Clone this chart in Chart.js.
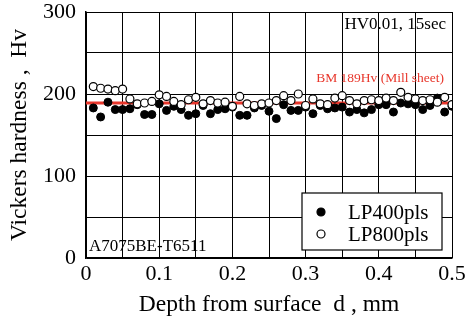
<!DOCTYPE html>
<html>
<head>
<meta charset="utf-8">
<script src="https://cdn.jsdelivr.net/npm/chart.js@4"></script>
<style>
  html, body { margin: 0; padding: 0; background: #fff; }
  #wrap { width: 471px; height: 322px; }
</style>
</head>
<body>
<div id="wrap"><canvas id="c" width="471" height="322"></canvas></div>
<script>
// depth from surface, mm
const depths = [0.01, 0.02, 0.03, 0.04, 0.05, 0.06, 0.07, 0.08, 0.09, 0.10,
                0.11, 0.12, 0.13, 0.14, 0.15, 0.16, 0.17, 0.18, 0.19, 0.20,
                0.21, 0.22, 0.23, 0.24, 0.25, 0.26, 0.27, 0.28, 0.29, 0.30,
                0.31, 0.32, 0.33, 0.34, 0.35, 0.36, 0.37, 0.38, 0.39, 0.40,
                0.41, 0.42, 0.43, 0.44, 0.45, 0.46, 0.47, 0.48, 0.49, 0.50];
// Vickers hardness, Hv
const lp400 = [183, 172, 190, 181, 181, 182, 187, 175, 175, 188,
               180, 185, 181, 174, 176, 186, 176, 181, 182, 184,
               174, 174, 183, 186, 179, 170, 187, 180, 180, 184,
               176, 186, 182, 183, 184, 178, 181, 177, 181, 187,
               187, 178, 189, 188, 187, 181, 186, 195, 178, 185];
const lp800 = [209, 207, 206, 204, 206, 194, 188, 189, 191, 199,
               197, 191, 187, 193, 196, 188, 192, 189, 190, 185,
               197, 188, 186, 188, 189, 192, 198, 192, 200, 186,
               194, 188, 187, 195, 198, 192, 188, 192, 193, 192,
               195, 192, 202, 196, 194, 192, 193, 190, 196, 187];
const millSheetHv = 189;
const xRange = [0, 0.5];
const yRange = [0, 300];

const FONT = '"Liberation Serif", "Times New Roman", serif';

const toPoints = ys => ys.map((y, i) => ({ x: depths[i], y: y }));

// text notes + legend box drawn inside the plot
const notesPlugin = {
    id: 'notes',
    afterDraw(chart) {
        const ctx = chart.ctx;
        const area = chart.chartArea;
        ctx.save();
        ctx.textBaseline = 'middle';

        ctx.fillStyle = '#000';
        ctx.font = '17px ' + FONT;
        ctx.textAlign = 'right';
        ctx.fillText('HV0.01, 15sec', area.right - 6, 25);

        ctx.fillStyle = '#e8372c';
        ctx.font = '13.5px ' + FONT;
        ctx.fillText('BM 189Hv (Mill sheet)', area.right - 8, 78);

        ctx.fillStyle = '#000';
        ctx.font = '17px ' + FONT;
        ctx.textAlign = 'left';
        ctx.fillText('A7075BE-T6511', area.left + 3, 247);

        // legend
        const bx = 302, by = 193, bw = 140, bh = 57;
        ctx.fillStyle = '#fff';
        ctx.fillRect(bx, by, bw, bh);
        ctx.strokeStyle = '#000';
        ctx.lineWidth = 1.2;
        ctx.strokeRect(bx, by, bw, bh);

        const rows = [
            { label: 'LP400pls', fill: '#000' },
            { label: 'LP800pls', fill: '#fff' }
        ];
        ctx.font = '21px ' + FONT;
        rows.forEach((r, i) => {
            const cy = 212 + i * 22;
            ctx.beginPath();
            ctx.arc(321, cy, 4, 0, Math.PI * 2);
            ctx.fillStyle = r.fill;
            ctx.fill();
            ctx.lineWidth = 1.2;
            ctx.strokeStyle = '#000';
            ctx.stroke();
            ctx.fillStyle = '#000';
            ctx.fillText(r.label, 348, cy + 1);
        });
        ctx.restore();
    }
};

new Chart(document.getElementById('c'), {
    type: 'scatter',
    data: {
        datasets: [
            {
                label: 'BM',
                type: 'line',
                data: [{ x: xRange[0], y: millSheetHv }, { x: xRange[1], y: millSheetHv }],
                borderColor: '#e8372c',
                borderWidth: 3,
                pointRadius: 0,
                order: 3
            },
            {
                label: 'LP400pls',
                data: toPoints(lp400),
                backgroundColor: '#000',
                borderColor: '#000',
                borderWidth: 1,
                pointRadius: 4,
                order: 2
            },
            {
                label: 'LP800pls',
                data: toPoints(lp800),
                backgroundColor: '#fff',
                borderColor: '#000',
                borderWidth: 1.2,
                pointRadius: 4,
                order: 1
            }
        ]
    },
    options: {
        responsive: false,
        animation: false,
        layout: { padding: { left: 0, right: 19, top: 12, bottom: 0 } },
        scales: {
            x: {
                type: 'linear',
                min: xRange[0],
                max: xRange[1],
                afterFit: s => { s.height = 64; s.paddingLeft = 0; s.paddingRight = 0; },
                ticks: {
                    stepSize: 0.05,
                    padding: 3,
                    color: '#000',
                    font: { family: FONT, size: 22 },
                    maxRotation: 0,
                    autoSkip: false,
                    callback: v => {
                        const k = Math.round(v * 100);
                        if (k % 10 !== 0) return '';
                        return k === 0 ? '0' : (k / 100).toFixed(1);
                    }
                },
                grid: { color: '#000', lineWidth: 1, drawTicks: false },
                border: { color: '#000', width: 1.5 },
                title: {
                    display: true,
                    text: 'Depth from surface  d , mm',
                    color: '#000',
                    font: { family: FONT, size: 23.5 },
                    padding: { top: 4, bottom: 3 }
                }
            },
            y: {
                min: yRange[0],
                max: yRange[1],
                afterFit: s => { s.width = 86; s.paddingTop = 0; s.paddingBottom = 0; },
                ticks: {
                    stepSize: 50,
                    padding: 10,
                    color: '#000',
                    font: { family: FONT, size: 22 },
                    callback: v => (v % 100 === 0 ? String(v) : '')
                },
                grid: { color: '#000', lineWidth: 1, drawTicks: false },
                border: { color: '#000', width: 1.5 },
                title: {
                    display: true,
                    text: 'Vickers hardness ,  Hv',
                    color: '#000',
                    font: { family: FONT, size: 23.5 },
                    padding: { top: 6, bottom: 4 }
                }
            }
        },
        plugins: {
            legend: { display: false },
            tooltip: { enabled: false }
        }
    },
    plugins: [notesPlugin]
});
</script>
</body>
</html>
